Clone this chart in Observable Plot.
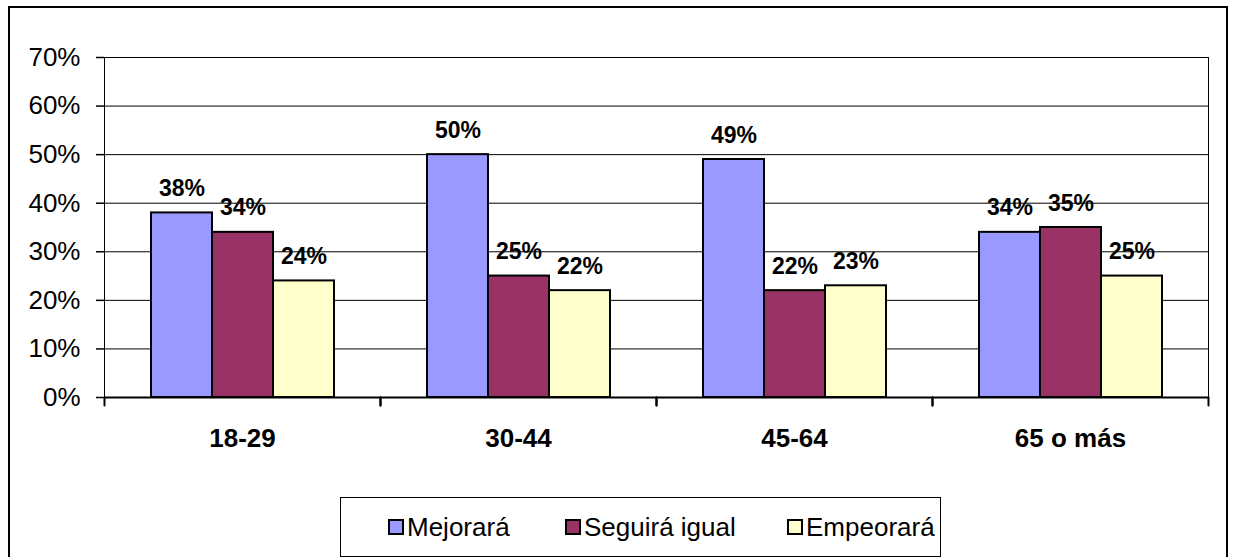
<!DOCTYPE html>
<html>
<head>
<meta charset="utf-8">
<script src="https://cdn.jsdelivr.net/npm/d3@7"></script>
<script src="https://cdn.jsdelivr.net/npm/@observablehq/plot@0.6"></script>
<style>
  html, body { margin: 0; padding: 0; background: #fff; }
  body { width: 1233px; height: 557px; position: relative; overflow: hidden; font-family: "Liberation Sans", Arial, sans-serif; }
  #border { position: absolute; left: 8px; top: 6px; width: 1220px; height: 570px; border: 2px solid #000; box-sizing: border-box; }
  #chart { position: absolute; left: 0; top: 0; }
  #legend { position: absolute; left: 340px; top: 497px; width: 601px; height: 60px; border: 1.5px solid #000; box-sizing: border-box; background: #fff;
            font-size: 26px; color: #000; }
  .item { position: absolute; top: 0; height: 100%; display: flex; align-items: center; white-space: nowrap; }
  .sw { width: 12px; height: 12px; border: 2px solid #000; margin-right: 3px; flex: none; }
</style>
</head>
<body>
<div id="border"></div>
<div id="chart"></div>
<div id="legend"></div>
<script>
const groups = ["18-29", "30-44", "45-64", "65 o más"];
const series = ["Mejorará", "Seguirá igual", "Empeorará"];
const mejorara = [38, 50, 49, 34];
const seguira = [34, 25, 22, 35];
const empeorara = [24, 22, 23, 25];
const yTicks = [0, 10, 20, 30, 40, 50, 60, 70];
const colors = ["#9999FF", "#993366", "#FFFFCC"];
const legendLeft = [47, 224, 446];

const seriesValues = [mejorara, seguira, empeorara];
const data = groups.flatMap((g, i) => series.map((s, j) => ({group: g, serie: s, value: seriesValues[j][i]})));

const tickShape = {draw(context, l) { context.moveTo(0, 0); context.lineTo(0, -l); }};

const chart = Plot.plot({
  width: 1233,
  height: 460,
  marginLeft: 104,
  marginRight: 25,
  marginTop: 57,
  marginBottom: 63,
  style: {fontFamily: "'Liberation Sans', Arial, sans-serif", fontSize: "26px", color: "#000", background: "transparent"},
  fx: {domain: groups, padding: 0, label: null},
  x: {domain: series, paddingInner: 0, paddingOuter: 0.75, axis: null},
  y: {domain: [0, 70], label: null},
  color: {domain: series, range: colors},
  marks: [
    Plot.ruleY(yTicks.slice(1), {stroke: "#000", strokeWidth: 1}),
    Plot.barY(data, {fx: "group", x: "serie", y: "value", fill: "serie", stroke: "#000", strokeWidth: 2}),
    Plot.frame({facet: "super", stroke: "#000", strokeWidth: 1}),
    Plot.ruleY([0], {stroke: "#000", strokeWidth: 2}),
    Plot.axisY({ticks: yTicks, tickFormat: d => d + "%", tickSize: 8, tickPadding: 16, fontSize: 26, label: null, strokeWidth: 1.5}),
    Plot.axisFx({anchor: "bottom", tickSize: 0, tickPadding: 31, fontSize: 26, fontWeight: "bold", label: null}),
    Plot.vector([0], {frameAnchor: "bottom-left", length: 8, rotate: 180, anchor: "start", shape: tickShape, stroke: "#000", strokeWidth: 2}),
    Plot.vector([0], {frameAnchor: "bottom-right", length: 8, rotate: 180, anchor: "start", shape: tickShape, stroke: "#000", strokeWidth: 2}),
    Plot.text(data, {fx: "group", x: "serie", y: "value", text: d => d.value + "%", lineAnchor: "bottom", dy: -17, fontWeight: "bold", fontSize: 23})
  ]
});
document.getElementById("chart").appendChild(chart);

const legend = document.getElementById("legend");
series.forEach((s, i) => {
  const item = document.createElement("div");
  item.className = "item";
  item.style.left = legendLeft[i] + "px";
  const sw = document.createElement("div");
  sw.className = "sw";
  sw.style.background = colors[i];
  const label = document.createElement("span");
  label.textContent = s;
  item.appendChild(sw);
  item.appendChild(label);
  legend.appendChild(item);
});
</script>
</body>
</html>
